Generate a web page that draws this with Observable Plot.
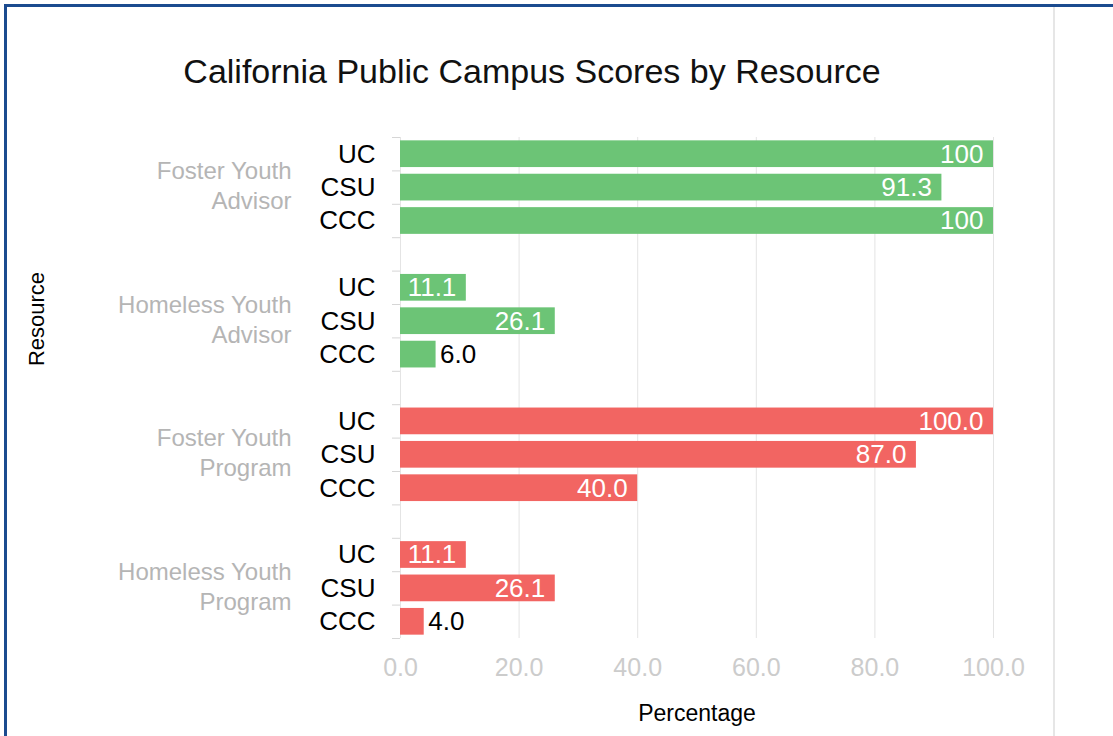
<!DOCTYPE html>
<html>
<head>
<meta charset="utf-8">
<script src="https://cdn.jsdelivr.net/npm/d3@7"></script>
<script src="https://cdn.jsdelivr.net/npm/@observablehq/plot@0.6"></script>
<style>
  html, body { margin: 0; padding: 0; background: #fff; width: 1113px; height: 736px; overflow: hidden; }
  body { position: relative; font-family: "Liberation Sans", Arial, sans-serif; }
  #frame { position: absolute; left: 4px; top: 4px; width: 1200px; height: 800px;
           border-top: 3px solid #1b4b8f; border-left: 3px solid #1b4b8f; box-sizing: border-box; }
  #rightline { position: absolute; left: 1053px; top: 7px; width: 2px; height: 740px; background: #e6e6e6; }
  #title { position: absolute; left: 0; top: 51px; width: 1064px; text-align: center;
           font-size: 34px; line-height: 40px; color: #111; }
  #chart { position: absolute; left: 0; top: 100px; }
  #chart svg { font-family: "Liberation Sans", Arial, sans-serif; overflow: visible; }
</style>
</head>
<body>
<div id="frame"></div>
<div id="rightline"></div>
<div id="title">California Public Campus Scores by Resource</div>
<div id="chart"></div>
<script>
// ---- data ----
const resources = ["Foster Youth Advisor", "Homeless Youth Advisor", "Foster Youth Program", "Homeless Youth Program"];
const resourceLines = ["Foster Youth\nAdvisor", "Homeless Youth\nAdvisor", "Foster Youth\nProgram", "Homeless Youth\nProgram"];
const resourceKind = ["Advisor", "Advisor", "Program", "Program"];
const institutions = ["UC", "CSU", "CCC"];
const fosterAdvisor = [100, 91.3, 100];
const homelessAdvisor = [11.1, 26.1, 6.0];
const fosterProgram = [100, 87.0, 40.0];
const homelessProgram = [11.1, 26.1, 4.0];
const fosterAdvisorLabels = ["100", "91.3", "100"];
const homelessAdvisorLabels = ["11.1", "26.1", "6.0"];
const fosterProgramLabels = ["100.0", "87.0", "40.0"];
const homelessProgramLabels = ["11.1", "26.1", "4.0"];
const xTicks = [0, 20, 40, 60, 80, 100];
const kinds = ["Advisor", "Program"];
const kindColors = ["#6cc476", "#f26562"];

const seriesValues = [fosterAdvisor, homelessAdvisor, fosterProgram, homelessProgram];
const seriesLabels = [fosterAdvisorLabels, homelessAdvisorLabels, fosterProgramLabels, homelessProgramLabels];

// ---- table ----
const rows = [];
const keys = [];
resources.forEach((r, gi) => {
  if (gi > 0) keys.push("gap" + gi);
  institutions.forEach((inst, ii) => {
    const key = r + "|" + inst;
    keys.push(key);
    rows.push({key, resource: r, inst, kind: resourceKind[gi],
               value: seriesValues[gi][ii], label: seriesLabels[gi][ii]});
  });
});
const instOf = new Map(rows.map(d => [d.key, d.inst]));
const groups = resources.map((r, gi) => ({key: r + "|" + institutions[1], text: resourceLines[gi]}));

// ---- layout ----
const W = 1113, H = 636, mT = 37, mB = 98, mL = 400, mR = 120;
const step = (H - mT - mB) / keys.length;
const inside = d => d.value >= 10;

const chart = Plot.plot({
  width: W, height: H,
  marginTop: mT, marginBottom: mB, marginLeft: mL, marginRight: mR,
  style: {background: "transparent", fontFamily: "Liberation Sans, Arial, sans-serif"},
  x: {domain: [0, 100]},
  y: {domain: keys, paddingInner: 0.2, paddingOuter: 0.1, round: false},
  color: {domain: kinds, range: kindColors},
  marks: [
    Plot.gridX(xTicks, {stroke: "#e4e4e4", strokeOpacity: 1}),
    Plot.axisY(keys, {tickSize: 8, text: null, dy: -step / 2, stroke: "#d6d6d6", label: null}),
    Plot.axisY([keys[keys.length - 1]], {tickSize: 8, text: null, dy: step / 2, stroke: "#d6d6d6", label: null}),
    Plot.axisY(rows.map(d => d.key), {tickSize: 0, tickPadding: 25, fontSize: 26, fill: "#000",
                 tickFormat: k => instOf.get(k) ?? "", label: null}),
    Plot.axisX(xTicks, {tickSize: 0, tickPadding: 20, fontSize: 25, fill: "#cccccc",
                 tickFormat: d3.format(".1f"), label: null}),
    Plot.barX(rows, {x: "value", y: "key", fill: "kind"}),
    Plot.text(rows.filter(inside), {x: "value", y: "key", text: "label", textAnchor: "end",
                 dx: -10, fill: "#fff", fontSize: 26}),
    Plot.text(rows.filter(d => !inside(d)), {x: "value", y: "key", text: "label", textAnchor: "start",
                 dx: 4, fill: "#000", fontSize: 26}),
    Plot.text(groups, {y: "key", text: "text", frameAnchor: "left", dx: -109, dy: -3, textAnchor: "end",
                 lineHeight: 1.25, fontSize: 24, fill: "#b5b5b5"}),
    Plot.text(["Percentage"], {frameAnchor: "bottom", dy: 82, fontSize: 23, fill: "#000"}),
    Plot.text(["Resource"], {frameAnchor: "left", textAnchor: "middle", dx: -364, dy: -69, rotate: -90,
                 fontSize: 22, fill: "#000"})
  ]
});
document.getElementById("chart").appendChild(chart);
</script>
</body>
</html>
